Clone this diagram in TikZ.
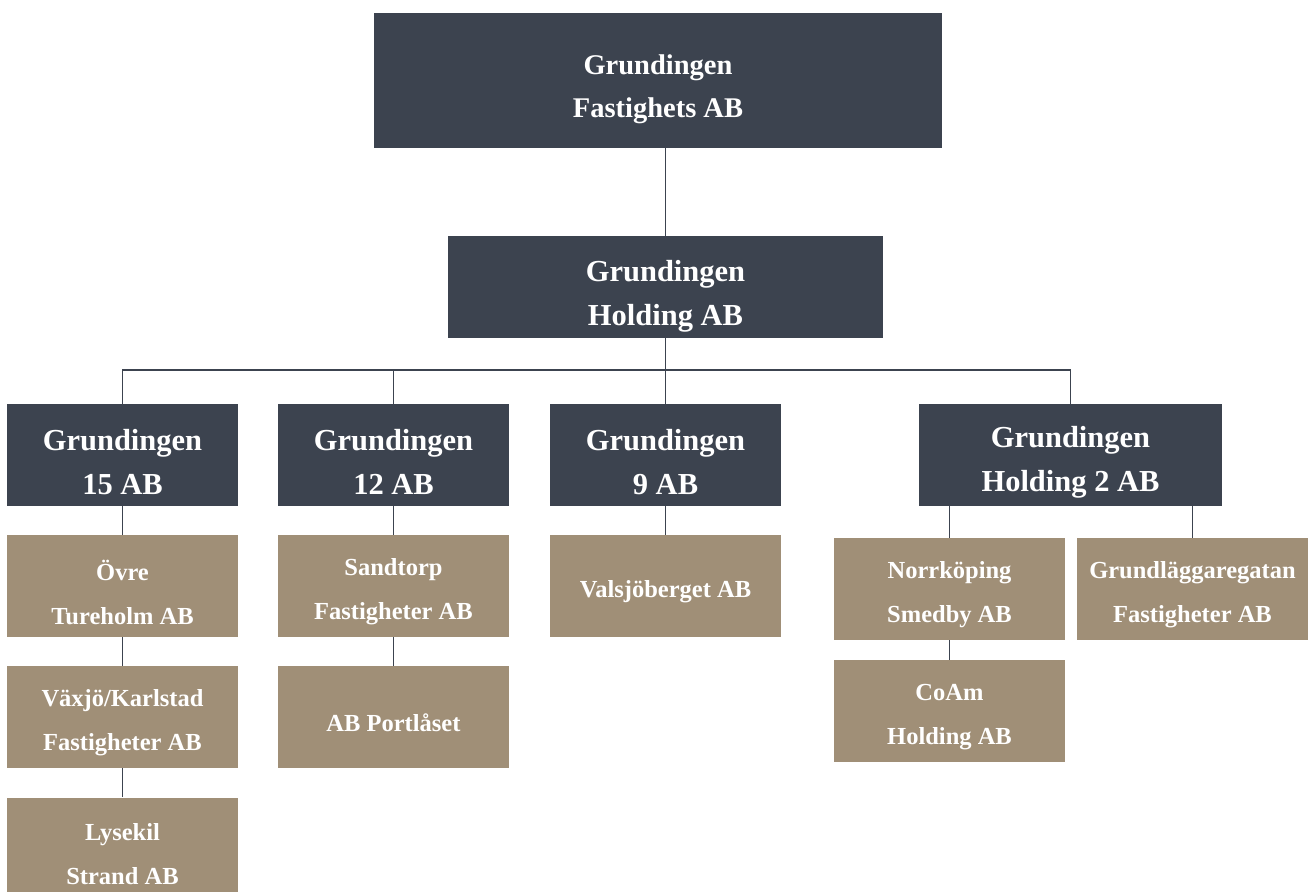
\documentclass[tikz,border=0pt]{standalone}
\usepackage{fontspec}
\setmainfont{Liberation Serif}
\definecolor{darkbox}{HTML}{3C434F}
\definecolor{tanbox}{HTML}{A08F77}
\definecolor{conn}{HTML}{3C434F}
\begin{document}
\begin{tikzpicture}[x=1pt,y=-1pt,
  box/.style={minimum height=102pt, inner sep=0pt},
  topbox/.style={box, fill=darkbox},
  darkbox/.style={box, fill=darkbox},
  tanbox/.style={box, fill=tanbox, minimum width=231pt},
  toptext/.style={align=center, text=white, inner sep=0pt, yshift=-9pt, font=\bfseries\fontsize{28.5}{43}\selectfont},
  darktext/.style={align=center, text=white, inner sep=0pt, yshift=-7pt, font=\bfseries\fontsize{30.5}{44}\selectfont},
  tantext/.style={align=center, text=white, inner sep=0pt, yshift=-6pt, font=\bfseries\fontsize{24.5}{44}\selectfont},
  link/.style={draw=conn, line width=1.2pt}]
\useasboundingbox (0,0) rectangle (1311,891);
\begin{scope}
\clip (0,0) rectangle (1311,891);
\node[topbox, minimum width=568pt, minimum height=135pt, label={[toptext]center:{Grundingen\\Fastighets AB}}] (top) at (658,80.5) {};
\node[darkbox, minimum width=435pt, label={[darktext, yshift=-2pt]center:{Grundingen\\Holding AB}}] (hold) at (665.5,287) {};
\node[darkbox, minimum width=231pt, label={[darktext]center:{Grundingen\\15 AB}}] (g15) at (122.5,455) {};
\node[darkbox, minimum width=231pt, label={[darktext]center:{Grundingen\\12 AB}}] (g12) at (393.5,455) {};
\node[darkbox, minimum width=231pt, label={[darktext]center:{Grundingen\\9 AB}}] (g9) at (665.5,455) {};
\node[darkbox, minimum width=303pt, label={[darktext]center:{Grundingen\\Holding 2 AB}}] (gh2) at (1070.5,455) {};
\node[tanbox, label={[tantext]center:{Övre\\Tureholm AB}}] (ovre) at (122.5,586) {};
\node[tanbox, label={[tantext]center:{Växjö/Karlstad\\Fastigheter AB}}] (vaxjo) at (122.5,717) {};
\node[tanbox, label={[tantext]center:{Lysekil\\Strand AB}}] (lysekil) at (122.5,848.5) {};
\node[tanbox, label={[tantext]center:{Sandtorp\\Fastigheter AB}}] (sand) at (393.5,586) {};
\node[tanbox, label={[tantext]center:{AB Portlåset}}] (port) at (393.5,717) {};
\node[tanbox, label={[tantext]center:{Valsjöberget AB}}] (vals) at (665.5,586) {};
\node[tanbox, label={[tantext]center:{Norrköping\\Smedby AB}}] (norr) at (949.5,589) {};
\node[tanbox, label={[tantext]center:{CoAm\\Holding AB}}] (coam) at (949.5,711) {};
\node[tanbox, label={[tantext]center:{Grundläggaregatan\\Fastigheter AB}}] (grundl) at (1192.5,589) {};
\coordinate (bus) at (665.5,370);
\draw[link] (top.south -| hold.north) -- (hold.north);
\draw[link] (hold.south) -- (bus);
\draw[link] (bus) -| (g15.north);
\draw[link] (bus) -| (g12.north);
\draw[link] (bus) -- (g9.north);
\draw[link] (bus) -| (gh2.north);
\draw[link] (g15) -- (ovre);
\draw[link] (ovre) -- (vaxjo);
\draw[link] (vaxjo) -- (lysekil);
\draw[link] (g12) -- (sand);
\draw[link] (sand) -- (port);
\draw[link] (g9) -- (vals);
\draw[link] (norr.north |- gh2.south) -- (norr.north);
\draw[link] (grundl.north |- gh2.south) -- (grundl.north);
\draw[link] (norr) -- (coam);
\end{scope}
\end{tikzpicture}
\end{document}
